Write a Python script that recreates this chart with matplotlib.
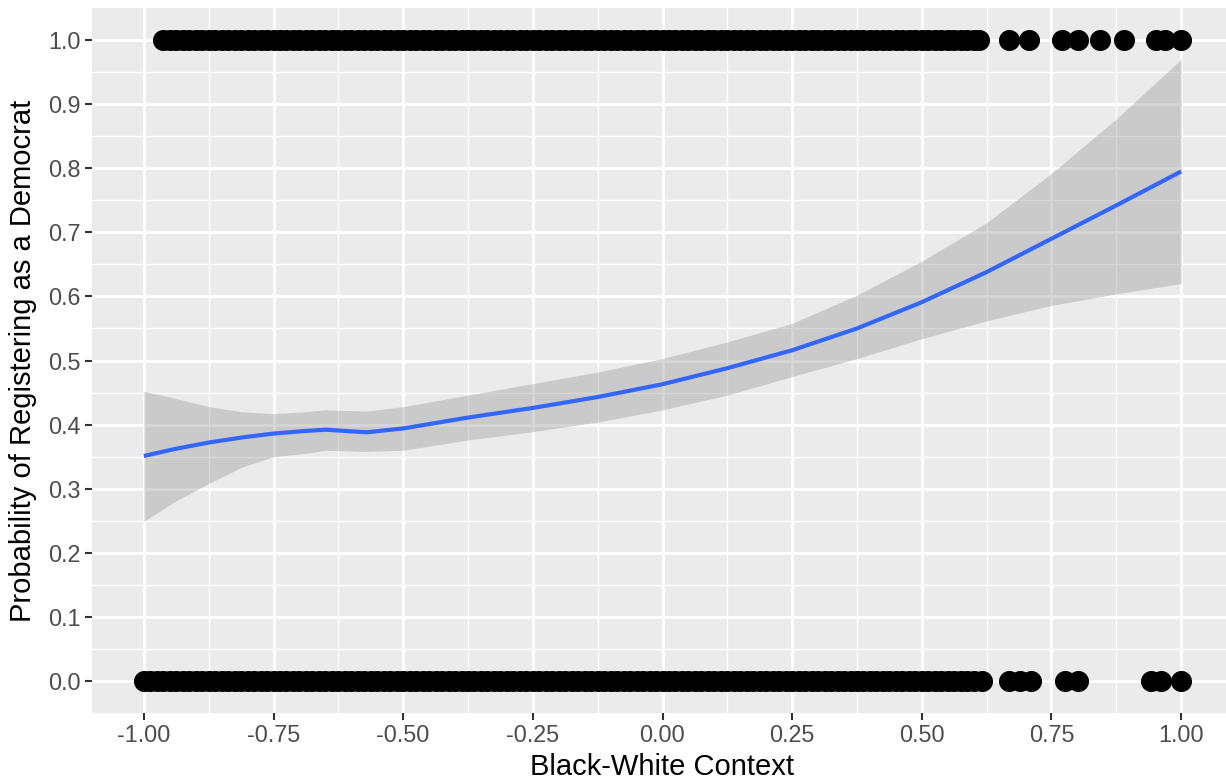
import matplotlib
matplotlib.use("Agg")
import matplotlib.pyplot as plt
from matplotlib.ticker import FixedLocator, FixedFormatter

# ---------------- data ----------------
fit_x = [-1.0, -0.94, -0.875, -0.81, -0.75, -0.69, -0.65, -0.57, -0.5, -0.375,
         -0.25, -0.125, 0.0, 0.125, 0.25, 0.375, 0.5, 0.625, 0.75, 0.875, 1.0]
fit_y = [0.351, 0.362, 0.372, 0.380, 0.386, 0.390, 0.392, 0.388, 0.394, 0.411,
         0.426, 0.443, 0.463, 0.488, 0.516, 0.550, 0.591, 0.638, 0.690, 0.742, 0.795]
fit_hi = [0.452, 0.441, 0.428, 0.420, 0.417, 0.420, 0.423, 0.421, 0.428, 0.446,
          0.464, 0.482, 0.503, 0.529, 0.558, 0.602, 0.655, 0.715, 0.792, 0.877, 0.970]
fit_lo = [0.249, 0.280, 0.308, 0.334, 0.350, 0.355, 0.360, 0.358, 0.360, 0.376,
          0.389, 0.404, 0.423, 0.446, 0.475, 0.503, 0.534, 0.562, 0.586, 0.604, 0.620]

# observations registered as Democrat (y = 1)
dem_x = [-0.9625, -0.95, -0.9375, -0.925, -0.9125, -0.9, -0.8875, -0.875, -0.8625, -0.85,
         -0.8375, -0.825, -0.8125, -0.8, -0.7875, -0.775, -0.7625, -0.75, -0.7375, -0.725,
         -0.7125, -0.7, -0.6875, -0.675, -0.6625, -0.65, -0.6375, -0.625, -0.6125, -0.6,
         -0.5875, -0.575, -0.5625, -0.55, -0.5375, -0.525, -0.5125, -0.5, -0.4875, -0.475,
         -0.4625, -0.45, -0.4375, -0.425, -0.4125, -0.4, -0.3875, -0.375, -0.3625, -0.35,
         -0.3375, -0.325, -0.3125, -0.3, -0.2875, -0.275, -0.2625, -0.25, -0.2375, -0.225,
         -0.2125, -0.2, -0.1875, -0.175, -0.1625, -0.15, -0.1375, -0.125, -0.1125, -0.1,
         -0.0875, -0.075, -0.0625, -0.05, -0.0375, -0.025, -0.0125, 0.0, 0.0125, 0.025,
         0.0375, 0.05, 0.0625, 0.075, 0.0875, 0.1, 0.1125, 0.125, 0.1375, 0.15,
         0.1625, 0.175, 0.1875, 0.2, 0.2125, 0.225, 0.2375, 0.25, 0.2625, 0.275,
         0.2875, 0.3, 0.3125, 0.325, 0.3375, 0.35, 0.3625, 0.375, 0.3875, 0.4,
         0.4125, 0.425, 0.4375, 0.45, 0.4625, 0.475, 0.4875, 0.5, 0.5125, 0.525,
         0.5375, 0.55, 0.5625, 0.575, 0.5875, 0.6, 0.61,
         0.668, 0.707, 0.770, 0.801, 0.843, 0.889, 0.952, 0.969, 1.0]
# observations not registered as Democrat (y = 0)
non_x = [-1.0, -0.9875, -0.975,
         -0.9625, -0.95, -0.9375, -0.925, -0.9125, -0.9, -0.8875, -0.875, -0.8625, -0.85,
         -0.8375, -0.825, -0.8125, -0.8, -0.7875, -0.775, -0.7625, -0.75, -0.7375, -0.725,
         -0.7125, -0.7, -0.6875, -0.675, -0.6625, -0.65, -0.6375, -0.625, -0.6125, -0.6,
         -0.5875, -0.575, -0.5625, -0.55, -0.5375, -0.525, -0.5125, -0.5, -0.4875, -0.475,
         -0.4625, -0.45, -0.4375, -0.425, -0.4125, -0.4, -0.3875, -0.375, -0.3625, -0.35,
         -0.3375, -0.325, -0.3125, -0.3, -0.2875, -0.275, -0.2625, -0.25, -0.2375, -0.225,
         -0.2125, -0.2, -0.1875, -0.175, -0.1625, -0.15, -0.1375, -0.125, -0.1125, -0.1,
         -0.0875, -0.075, -0.0625, -0.05, -0.0375, -0.025, -0.0125, 0.0, 0.0125, 0.025,
         0.0375, 0.05, 0.0625, 0.075, 0.0875, 0.1, 0.1125, 0.125, 0.1375, 0.15,
         0.1625, 0.175, 0.1875, 0.2, 0.2125, 0.225, 0.2375, 0.25, 0.2625, 0.275,
         0.2875, 0.3, 0.3125, 0.325, 0.3375, 0.35, 0.3625, 0.375, 0.3875, 0.4,
         0.4125, 0.425, 0.4375, 0.45, 0.4625, 0.475, 0.4875, 0.5, 0.5125, 0.525,
         0.5375, 0.55, 0.5625, 0.575, 0.5875, 0.6, 0.617,
         0.668, 0.689, 0.710, 0.777, 0.801, 0.941, 0.962, 1.0]

x_ticks = [-1.0, -0.75, -0.5, -0.25, 0.0, 0.25, 0.5, 0.75, 1.0]
x_labels = ["-1.00", "-0.75", "-0.50", "-0.25", "0.00", "0.25", "0.50", "0.75", "1.00"]
y_ticks = [0.0, 0.1, 0.2, 0.3, 0.4, 0.5, 0.6, 0.7, 0.8, 0.9, 1.0]
y_labels = ["0.0", "0.1", "0.2", "0.3", "0.4", "0.5", "0.6", "0.7", "0.8", "0.9", "1.0"]
x_minor = [-0.875, -0.625, -0.375, -0.125, 0.125, 0.375, 0.625, 0.875]
y_minor = [0.05, 0.15, 0.25, 0.35, 0.45, 0.55, 0.65, 0.75, 0.85, 0.95]

# ---------------- figure ----------------
plt.rcParams['font.family'] = ['Liberation Sans', 'DejaVu Sans']
W, H = 1226, 782
fig = plt.figure(figsize=(W / 100, H / 100), dpi=100)
left_px, right_px, top_px, bot_px = 92, 1233, 8, 713
ax = fig.add_axes([left_px / W, 1 - bot_px / H, (right_px - left_px) / W, (bot_px - top_px) / H])

ax.set_facecolor('#EBEBEB')
for s in ax.spines.values():
    s.set_visible(False)

ax.set_xlim(-1.1, 1.1)
ax.set_ylim(-0.05, 1.05)

ax.xaxis.set_major_locator(FixedLocator(x_ticks))
ax.xaxis.set_major_formatter(FixedFormatter(x_labels))
ax.yaxis.set_major_locator(FixedLocator(y_ticks))
ax.yaxis.set_major_formatter(FixedFormatter(y_labels))
ax.xaxis.set_minor_locator(FixedLocator(x_minor))
ax.yaxis.set_minor_locator(FixedLocator(y_minor))

ax.set_axisbelow(True)
ax.grid(which='major', color='white', linewidth=2.0)
ax.grid(which='minor', color='white', linewidth=1.0)
ax.tick_params(which='major', length=5, width=1.5, color='#333333',
               labelsize=16.8, labelcolor='#4D4D4D', pad=3)
ax.tick_params(which='minor', length=0)

ax.scatter(dem_x, [1.0] * len(dem_x), s=230, color='black', linewidths=0, zorder=2)
ax.scatter(non_x, [0.0] * len(non_x), s=230, color='black', linewidths=0, zorder=2)

ax.fill_between(fit_x, fit_lo, fit_hi, color='#999999', alpha=0.4, linewidth=0, zorder=3)
ax.plot(fit_x, fit_y, color='#3366FF', linewidth=3.0, zorder=4, solid_capstyle='butt')

ax.set_xlabel('Black-White Context', fontsize=21, color='black', labelpad=4)
ax.set_ylabel('Probability of Registering as a Democrat', fontsize=21, color='black', labelpad=8)

fig.savefig('out.png', dpi=100)
